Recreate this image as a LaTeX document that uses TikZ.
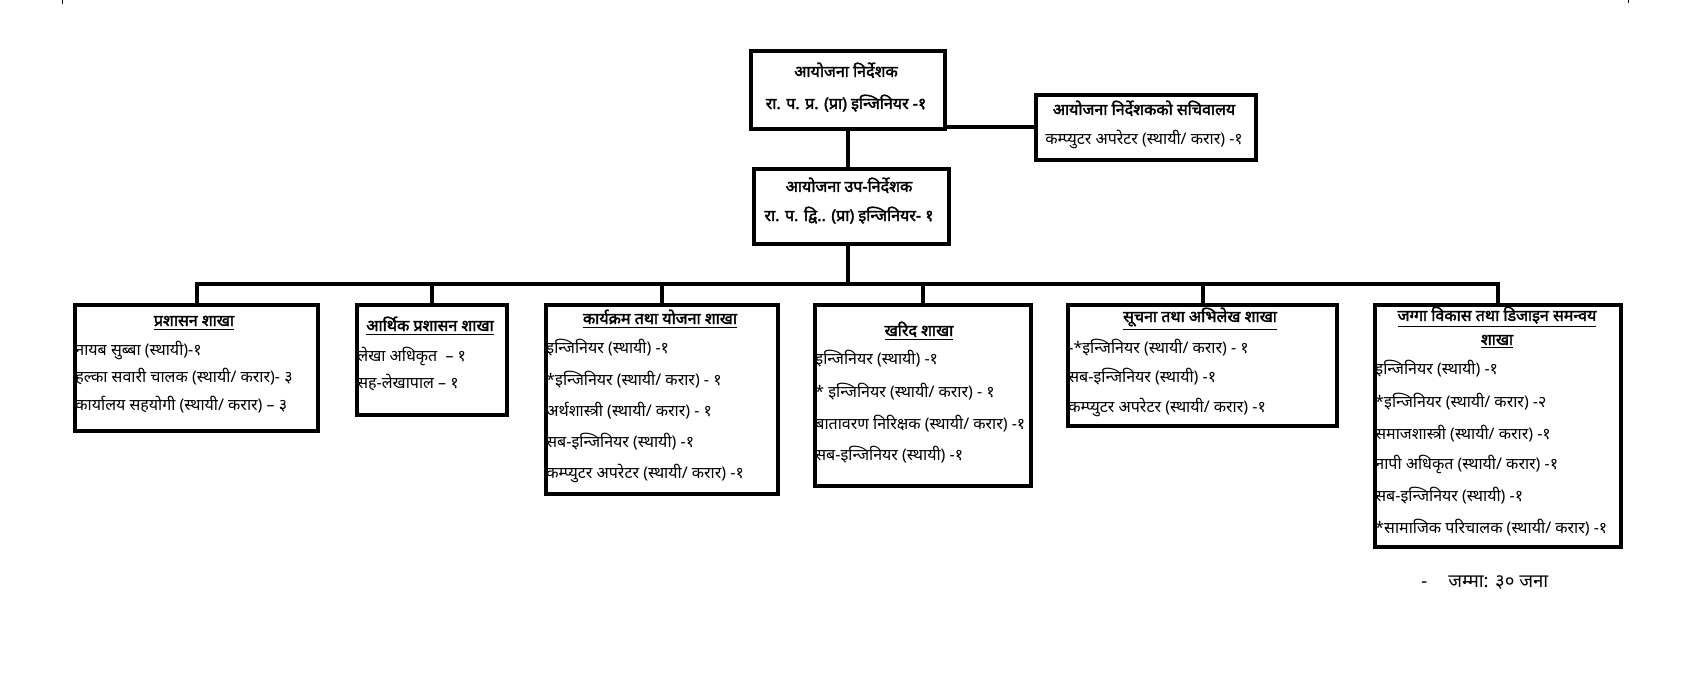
\documentclass[tikz,border=0pt]{standalone}
\usepackage{fontspec}
\setmainfont{Noto Sans}[Script=Devanagari, BoldFont={Noto Sans}, BoldFeatures={FakeBold=2.2}]
\begin{document}
\begin{tikzpicture}[x=0.5pt,y=-0.5pt,
  box/.style={draw, line width=2pt, inner sep=0pt, anchor=north west},
  wire/.style={draw, line width=2pt},
  txt/.style={inner sep=0pt, anchor=base west, font=\fontsize{8}{10}\selectfont},
  ttl/.style={inner sep=0pt, anchor=base, font=\fontsize{8}{10}\selectfont\bfseries},
  tick/.style={draw, line width=0.5pt}]
\useasboundingbox (0,0) rectangle (1696,700);
\fill[white] (0,0) rectangle (1696,700);
% tiny marks at the top
\coordinate (tkl) at (62,0); \coordinate (tkr) at (1628,0);
\draw[tick] (tkl) -- ++(0,4);
\draw[tick] (tkr) -- ++(0,3);
% top boxes
\node[box, minimum width=97pt, minimum height=39pt] (pd) at (749,49) {};
\node[box, minimum width=110pt, minimum height=32.5pt] (sec) at (1034,93) {};
\node[box, minimum width=97.5pt, minimum height=37.5pt] (dpd) at (752,167) {};
\node[ttl] (pd1) at (846,77) {आयोजना निर्देशक};
\node[ttl] (pd2) at (846,109) {रा. प. प्र. (प्रा) इन्जिनियर -१};
\node[ttl] (sec1) at (1144,115) {आयोजना निर्देशकको सचिवालय};
\node[ttl, font=\fontsize{8}{10}\selectfont] (sec2) at (1144,145) {कम्प्युटर अपरेटर (स्थायी/ करार) -१};
\node[ttl] (dpd1) at (849,192) {आयोजना उप-निर्देशक};
\node[ttl] (dpd2) at (849,221) {रा. प. द्वि.. (प्रा) इन्जिनियर- १};
% branch boxes
\node[box, minimum width=121.5pt, minimum height=63pt] (b1) at (73,303) {};
\node[box, minimum width=75pt, minimum height=55pt] (b2) at (355,303) {};
\node[box, minimum width=116pt, minimum height=94.5pt] (b3) at (544,303) {};
\node[box, minimum width=108pt, minimum height=90.5pt] (b4) at (813,303) {};
\node[box, minimum width=134.5pt, minimum height=60.5pt] (b5) at (1066,303) {};
\node[box, minimum width=123pt, minimum height=121pt] (b6) at (1373,303) {};
% connectors
\coordinate (bus) at (846,284);
\draw[wire] (pd.south) -- (pd.south |- dpd.north);
\draw[wire] (pd.south |- dpd.south) -- (pd.south |- bus);
\draw[wire] (sec.west) -- (sec.west -| pd.east);
\draw[wire] (b1.north) -- (b1.north |- bus) -- (b6.north |- bus) -- (b6.north);
\foreach \b in {b2,b3,b4,b5} \draw[wire] (\b.north) -- (\b.north |- bus);
% b1
\node[ttl] (b1t) at (194,326) {\underline{प्रशासन शाखा}};
\node[txt] (b1a) at (75,355) {नायब सुब्बा (स्थायी)-१};
\node[txt] (b1b) at (75,382) {हल्का सवारी चालक (स्थायी/ करार)- ३};
\node[txt] (b1c) at (75,410) {कार्यालय सहयोगी (स्थायी/ करार) – ३};
% b2
\node[ttl] (b2t) at (430,331) {\underline{आर्थिक प्रशासन शाखा}};
\node[txt] (b2a) at (357,361) {लेखा अधिकृत \ – १};
\node[txt] (b2b) at (357,388) {सह-लेखापाल – १};
% b3
\node[ttl] (b3t) at (660,324) {\underline{कार्यक्रम तथा योजना शाखा}};
\node[txt] (b3a) at (546,353) {इन्जिनियर (स्थायी) -१};
\node[txt] (b3b) at (546,385) {*इन्जिनियर (स्थायी/ करार) - १};
\node[txt] (b3c) at (546,416) {अर्थशास्त्री (स्थायी/ करार) - १};
\node[txt] (b3d) at (546,447) {सब-इन्जिनियर (स्थायी) -१};
\node[txt] (b3e) at (546,478) {कम्प्युटर अपरेटर (स्थायी/ करार) -१};
% b4
\node[ttl] (b4t) at (919,336) {\underline{खरिद शाखा}};
\node[txt] (b4a) at (815,364) {इन्जिनियर (स्थायी) -१};
\node[txt] (b4b) at (815,397) {* इन्जिनियर (स्थायी/ करार) - १};
\node[txt] (b4c) at (815,429) {बातावरण निरिक्षक (स्थायी/ करार) -१};
\node[txt] (b4d) at (815,460) {सब-इन्जिनियर (स्थायी) -१};
% b5
\node[ttl] (b5t) at (1200,322) {\underline{सूचना तथा अभिलेख शाखा}};
\node[txt] (b5a) at (1068,353) {-*इन्जिनियर (स्थायी/ करार) - १};
\node[txt] (b5b) at (1068,382) {सब-इन्जिनियर (स्थायी) -१};
\node[txt] (b5c) at (1068,412) {कम्प्युटर अपरेटर (स्थायी/ करार) -१};
% b6
\node[ttl] (b6t) at (1497,321) {\underline{जग्गा विकास तथा डिजाइन समन्वय}};
\node[ttl] (b6u) at (1497,345) {\underline{शाखा}};
\node[txt] (b6a) at (1375,374) {इन्जिनियर (स्थायी) -१};
\node[txt] (b6b) at (1375,407) {*इन्जिनियर (स्थायी/ करार) -२};
\node[txt] (b6c) at (1375,439) {समाजशास्त्री (स्थायी/ करार) -१};
\node[txt] (b6d) at (1375,469) {नापी अधिकृत (स्थायी/ करार) -१};
\node[txt] (b6e) at (1375,501) {सब-इन्जिनियर (स्थायी) -१};
\node[txt] (b6f) at (1375,533) {*सामाजिक परिचालक (स्थायी/ करार) -१};
% total
\node[txt, font=\fontsize{9.3}{11}\selectfont] (tot1) at (1421,587) {-};
\node[txt, font=\fontsize{9.3}{11}\selectfont] (tot2) at (1448,587) {जम्मा: ३० जना};
\end{tikzpicture}
\end{document}
